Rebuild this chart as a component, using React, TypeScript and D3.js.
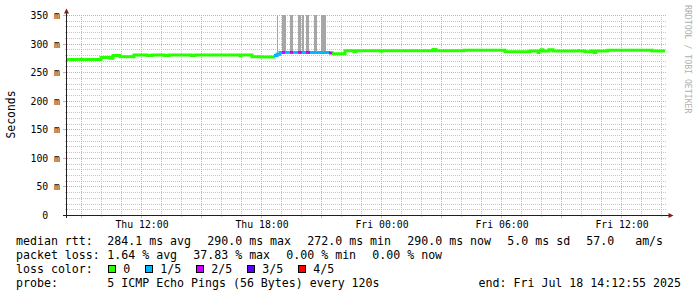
import React from "react";
import * as d3 from "d3";

const DAYS: Record<string, string> = { Thu: "2025-07-17", Fri: "2025-07-18" };
const at = (s: string) => {
  const [d, hm] = s.split(" ");
  return new Date(`${DAYS[d]}T${hm}:00Z`);
};

const VIEW_START = "Thu 08:18";
const VIEW_END = "Fri 14:18";
const DATA_END = "Fri 14:12";

// median rtt as steps: start time, value (ms), lost pings of 5
const stepTimes = [
  "Thu 08:18", "Thu 10:00", "Thu 10:27", "Thu 10:36", "Thu 10:57", "Thu 11:39",
  "Thu 12:18", "Thu 12:33", "Thu 13:09", "Thu 13:24", "Thu 14:30", "Thu 14:42",
  "Thu 16:57", "Thu 17:00", "Thu 17:33", "Thu 18:00", "Thu 18:39", "Thu 18:48",
  "Thu 18:57", "Thu 19:03", "Thu 19:12", "Thu 19:27", "Thu 19:36", "Thu 19:51",
  "Thu 20:03", "Thu 20:15", "Thu 20:27", "Thu 21:24", "Thu 21:33", "Thu 22:12",
  "Thu 22:39", "Thu 22:45", "Fri 00:00", "Fri 00:03", "Fri 02:36", "Fri 02:45",
  "Fri 04:09", "Fri 06:12", "Fri 07:27", "Fri 07:51", "Fri 07:54", "Fri 08:00",
  "Fri 08:06", "Fri 08:24", "Fri 08:36", "Fri 10:12", "Fri 10:30", "Fri 10:39",
  "Fri 10:45", "Fri 11:21", "Fri 13:33",
];
const stepRtt = [
  272, 275.5, 274.5, 279, 277, 280,
  279, 280, 279, 280, 279, 280,
  278.5, 280, 277, 276.5, 279, 281.5,
  284.5, 284.5, 284.5, 284.5, 284.5, 284.5,
  284.5, 284.5, 284.5, 283.5, 282, 287.5,
  285.5, 287.5, 286.5, 287.5, 289.5, 287.5,
  288.5, 285.5, 287, 284.5, 287, 289,
  287, 289, 287, 285.5, 287, 284.5,
  287, 288.5, 287,
];
const stepLoss = [
  0, 0, 0, 0, 0, 0,
  0, 0, 0, 0, 0, 0,
  0, 0, 0, 0, 1, 1,
  1, 2, 1, 2, 1, 2,
  1, 2, 1, 2, 0, 0,
  0, 0, 0, 0, 0, 0,
  0, 0, 0, 0, 0, 0,
  0, 0, 0, 0, 0, 0,
  0, 0, 0,
];

// smoke (ping spread) intervals
const smokeStart = ["Thu 18:48", "Thu 19:03", "Thu 19:27", "Thu 19:51", "Thu 20:03", "Thu 20:15", "Thu 20:39", "Thu 21:00", "Fri 09:51"];
const smokeEnd = ["Thu 18:51", "Thu 19:15", "Thu 19:36", "Thu 20:00", "Thu 20:09", "Thu 20:24", "Thu 20:48", "Thu 21:15", "Fri 09:54"];
const smokeLow = [283, 285, 285, 285, 285, 285, 285, 285, 287];
const smokeHigh = [420, 420, 420, 420, 420, 420, 420, 420, 291];

const yTicks = [0, 50, 100, 150, 200, 250, 300, 350];
const yTickLabels = ["0  ", "50 m", "100 m", "150 m", "200 m", "250 m", "300 m", "350 m"];

const lossLabels = ["0", "1/5", "2/5", "3/5", "4/5"];
const lossColors = ["#26ff00", "#00b8ff", "#c800ff", "#5a00ff", "#ff0000"];

const legendRtt = ["median rtt:", "284.1 ms avg", "290.0 ms max", "272.0 ms min", "290.0 ms now", "5.0 ms sd", "57.0   am/s"];
const legendLoss = ["packet loss:", "1.64 % avg", "37.83 % max", "0.00 % min", "0.00 % now"];
const legendColorTitle = "loss color:";
const legendProbe = ["probe:", "5 ICMP Echo Pings (56 Bytes) every 120s"];
const legendEnd = "end: Fri Jul 18 14:12:55 2025";
const yAxisTitle = "Seconds";
const watermark = "RRDTOOL / TOBI OETIKER";

const W = 697, H = 297;
const X0 = 67, X1 = 667, Y0 = 215, Y1 = 15;
const MONO = "'DejaVu Sans Mono', monospace";
const CW = 7.0;
const PRE: React.CSSProperties = { whiteSpace: "pre" };

export default function App() {
  const x = d3.scaleUtc().domain([at(VIEW_START), at(VIEW_END)]).range([X0, X1]);
  const y = d3.scaleLinear().domain([0, 350]).range([Y0, Y1]);

  const minorX = d3.utcHour.range(at(VIEW_START), at(VIEW_END));
  const majorX = d3.utcHour.every(3)!.range(at(VIEW_START), at(VIEW_END));
  const labelX = d3.utcHour.every(6)!.range(at(VIEW_START), at(VIEW_END));
  const fmt = d3.utcFormat("%a %H:%M");
  const minorY = d3.range(0, 351, 10).filter((v) => v % 50 !== 0);

  const n = stepTimes.length;
  type Run = { loss: number; pts: [Date, number][] };
  const runs: Run[] = [];
  for (let i = 0; i < n; i++) {
    const last = runs[runs.length - 1];
    if (!last || last.loss !== stepLoss[i]) {
      if (last) {
        last.pts.push([at(stepTimes[i]), stepRtt[i - 1]]);
        last.pts.push([at(stepTimes[i]), stepRtt[i]]);
      }
      runs.push({ loss: stepLoss[i], pts: [[at(stepTimes[i]), stepRtt[i]]] });
    } else {
      last.pts.push([at(stepTimes[i]), stepRtt[i]]);
    }
  }
  runs[runs.length - 1].pts.push([at(DATA_END), stepRtt[n - 1]]);
  const line = d3
    .line<[Date, number]>()
    .x((d) => x(d[0]))
    .y((d) => y(d[1]))
    .curve(d3.curveStepAfter);

  const pos = (items: string[]) => {
    const xs: number[] = [16, 107.3];
    for (let i = 2; i < items.length; i++) xs.push(xs[i - 1] + items[i - 1].length * CW + 16);
    return xs;
  };
  const rttX = pos(legendRtt);
  const lossX = pos(legendLoss);
  const colX: number[] = [107.3];
  for (let i = 1; i < lossLabels.length; i++) colX.push(colX[i - 1] + 30 + lossLabels[i - 1].length * CW);

  const baseY = [245.3, 259.0, 272.8, 286.5];
  const minorC = "#c6c6c6";
  const majorC = "#e6a4a4";

  return (
    <svg width={W} height={H} style={{ position: "absolute", left: 0, top: 0, background: "#fff" }}>
      <defs>
        <clipPath id="plot">
          <rect x={X0} y={Y1} width={X1 - X0} height={Y0 - Y1} />
        </clipPath>
      </defs>
      <rect x={0} y={0} width={W} height={H} fill="#ffffff" />
      <g shapeRendering="crispEdges" strokeWidth={1} strokeDasharray="1,1">
        {minorY.map((v) => (
          <line key={"my" + v} x1={X0} x2={X1} y1={Math.round(y(v)) + 0.5} y2={Math.round(y(v)) + 0.5} stroke={minorC} />
        ))}
        {minorX.filter((t) => t.getUTCHours() % 3 !== 0).map((t) => (
          <line key={"mx" + +t} x1={Math.round(x(t)) + 0.5} x2={Math.round(x(t)) + 0.5} y1={Y1} y2={Y0} stroke={minorC} />
        ))}
        {yTicks.map((v) => (
          <line key={"My" + v} x1={X0} x2={X1} y1={Math.round(y(v)) + 0.5} y2={Math.round(y(v)) + 0.5} stroke={majorC} />
        ))}
        {majorX.map((t) => (
          <line key={"Mx" + +t} x1={Math.round(x(t)) + 0.5} x2={Math.round(x(t)) + 0.5} y1={Y1} y2={Y0} stroke={majorC} />
        ))}
      </g>
      <g shapeRendering="crispEdges">
        {minorY.map((v) => (
          <line key={"ty" + v} x1={X0 - 2} x2={X0} y1={Math.round(y(v)) + 0.5} y2={Math.round(y(v)) + 0.5} stroke={minorC} />
        ))}
        {yTicks.map((v) => (
          <line key={"tY" + v} x1={X0 - 4} x2={X0} y1={Math.round(y(v)) + 0.5} y2={Math.round(y(v)) + 0.5} stroke={majorC} />
        ))}
        {minorX.map((t) => (
          <line key={"tx" + +t} x1={Math.round(x(t)) + 0.5} x2={Math.round(x(t)) + 0.5} y1={Y0} y2={Y0 + (t.getUTCHours() % 3 === 0 ? 3 : 2)} stroke={t.getUTCHours() % 3 === 0 ? majorC : minorC} />
        ))}
      </g>
      <g clipPath="url(#plot)" shapeRendering="crispEdges">
        {smokeStart.map((s, i) => (
          <rect key={"s" + i} x={x(at(s))} width={x(at(smokeEnd[i])) - x(at(s))} y={y(smokeHigh[i])} height={y(smokeLow[i]) - y(smokeHigh[i])} fill="#a6a6a6" />
        ))}
      </g>
      <g fill="none" strokeWidth={3} strokeLinejoin="miter" strokeLinecap="butt">
        {runs.map((r, i) => (
          <path key={"r" + i} d={line(r.pts) || ""} stroke={lossColors[r.loss]} />
        ))}
      </g>
      <g shapeRendering="crispEdges" stroke="#1f1f1f">
        <line x1={X0 - 4} x2={670} y1={Y0 + 0.5} y2={Y0 + 0.5} />
        <line x1={X0 - 0.5} x2={X0 - 0.5} y1={Y0 + 3} y2={12} />
      </g>
      <path d={`M${X0 - 0.5},8.5 L${X0 - 3},13.5 L${X0 + 2},13.5 Z`} fill="#801f1f" />
      <path d={`M673.5,${Y0 + 0.5} L668.5,${Y0 - 2} L668.5,${Y0 + 3} Z`} fill="#801f1f" />
      <g fontFamily={MONO} fontSize={9.8} fill="#000" textAnchor="end">
        {yTicks.map((v, i) => (
          <text key={"yl" + v} x={60} y={Math.round(y(v)) + 3.8} xmlSpace="preserve" style={PRE}>{yTickLabels[i]}</text>
        ))}
      </g>
      <g fontFamily={MONO} fontSize={9.8} fill="#000" textAnchor="middle">
        {labelX.map((t) => (
          <text key={"xl" + +t} x={x(t) + 1} y={228}>{fmt(t)}</text>
        ))}
      </g>
      <text transform="translate(15,114.5) rotate(-90)" fontFamily={MONO} fontSize={11.4} textAnchor="middle" fill="#000">{yAxisTitle}</text>
      <text transform="translate(684.5,5) rotate(90)" fontFamily={MONO} fontSize={8.2} fill="#b0b0b0">{watermark}</text>
      <g fontFamily={MONO} fontSize={11.6} fill="#000">
        {legendRtt.map((s, i) => (
          <text key={"l1" + i} x={rttX[i]} y={baseY[0]} xmlSpace="preserve" style={PRE}>{s}</text>
        ))}
        {legendLoss.map((s, i) => (
          <text key={"l2" + i} x={lossX[i]} y={baseY[1]} xmlSpace="preserve" style={PRE}>{s}</text>
        ))}
        <text x={16} y={baseY[2]}>{legendColorTitle}</text>
        {lossLabels.map((s, i) => (
          <g key={"lc" + i}>
            <rect x={colX[i] + 1.5} y={265.5} width={7} height={7} fill={lossColors[i]} stroke="#000" strokeWidth={1} shapeRendering="crispEdges" />
            <text x={colX[i] + 16} y={baseY[2]}>{s}</text>
          </g>
        ))}
        <text x={16} y={baseY[3]}>{legendProbe[0]}</text>
        <text x={107.3} y={baseY[3]}>{legendProbe[1]}</text>
        <text x={681} y={baseY[3]} textAnchor="end">{legendEnd}</text>
      </g>
    </svg>
  );
}
